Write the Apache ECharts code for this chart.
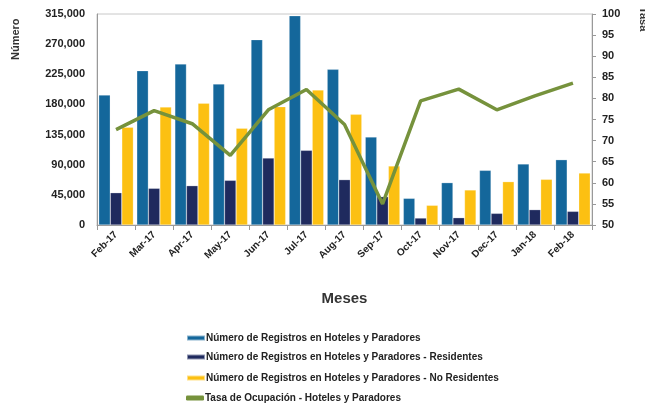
<!DOCTYPE html>
<html>
<head>
<meta charset="utf-8">
<script src="https://cdn.jsdelivr.net/npm/echarts@6/dist/echarts.min.js"></script>
<style>
  html, body { margin: 0; padding: 0; background: #fff; }
  #main { width: 645px; height: 403px; }
</style>
</head>
<body>
<div id="main"></div>
<script>
// meses
var meses = ['Feb-17', 'Mar-17', 'Apr-17', 'May-17', 'Jun-17', 'Jul-17', 'Aug-17',
             'Sep-17', 'Oct-17', 'Nov-17', 'Dec-17', 'Jan-18', 'Feb-18'];

// registros
var registrosTotal = [194000, 230400, 240400, 210500, 276700, 312500, 232400,
                      131400, 39800, 63200, 81600, 91100, 97500];
var registrosResidentes = [48200, 54800, 58700, 66700, 100000, 111500, 67700,
                           42300, 10400, 10900, 17400, 22900, 20400];
var registrosNoResidentes = [145900, 176200, 181700, 144400, 176700, 201600, 165200,
                             88100, 29400, 52300, 64700, 68200, 77600];
// tasa de ocupacion (%)
var tasaOcupacion = [72.6, 77.1, 74.0, 66.5, 77.3, 82.1, 73.8,
                     55.0, 79.4, 82.2, 77.3, 80.6, 83.6];

var nombres = [
  'Número de Registros en Hoteles y Paradores',
  'Número de Registros en Hoteles y Paradores - Residentes',
  'Número de Registros en Hoteles y Paradores - No Residentes',
  'Tasa de Ocupación - Hoteles y Paradores'
];

var myChart = echarts.init(document.getElementById('main'));
var fuente = 'Liberation Sans, Arial, sans-serif';

// una leyenda por fila, para que no se parta en columnas
var filasLeyenda = [328, 347, 368, 388];
var leyendas = nombres.map(function (n, i) {
  return {
    orient: 'vertical',
    left: 181,
    top: filasLeyenda[i],
    itemWidth: 18,
    itemHeight: 5,
    textStyle: { fontSize: 10, fontWeight: 'bold', color: '#222', padding: [0, 0, 0, -4] },
    data: [{ name: n, icon: i === 3 ? 'roundRect' : 'rect' }]
  };
});

var option = {
  animation: false,
  textStyle: { fontFamily: fuente },
  grid: { left: 97, right: 53, top: 14, bottom: 178, containLabel: false,
          show: true, borderColor: '#c8c8c8', borderWidth: 1, backgroundColor: 'transparent' },
  legend: leyendas,
  xAxis: {
    type: 'category',
    data: meses,
    axisLine: { lineStyle: { color: '#999' } },
    axisTick: { show: true, alignWithLabel: false, length: 5, lineStyle: { color: '#999' } },
    axisLabel: { rotate: 45, fontSize: 10, fontWeight: 'bold', color: '#222', margin: 8 },
    name: 'Meses',
    nameLocation: 'middle',
    nameGap: 66,
    nameTextStyle: { fontSize: 15, fontWeight: 'bold', color: '#333' }
  },
  yAxis: [
    {
      type: 'value',
      min: 0,
      max: 315000,
      interval: 45000,
      splitLine: { show: false },
      axisLine: { show: true, lineStyle: { color: '#999' } },
      axisTick: { show: false },
      axisLabel: {
        fontSize: 11, fontWeight: 'bold', color: '#222', margin: 12,
        formatter: function (v) { return v.toLocaleString('en-US'); }
      }
    },
    {
      type: 'value',
      min: 50,
      max: 100,
      interval: 5,
      splitLine: { show: false },
      axisLine: { show: true, lineStyle: { color: '#999' } },
      axisTick: { show: true, length: 4, lineStyle: { color: '#999' } },
      axisLabel: { fontSize: 11, fontWeight: 'bold', color: '#222', margin: 10 }
    }
  ],
  series: [
    {
      name: nombres[0], type: 'bar', data: registrosTotal,
      barGap: '0%', barCategoryGap: '9%',
      itemStyle: { color: '#14679b', borderColor: 'rgba(255,255,255,0.5)', borderWidth: 0.5 }
    },
    {
      name: nombres[1], type: 'bar', data: registrosResidentes,
      itemStyle: { color: '#1f2a5e', borderColor: 'rgba(255,255,255,0.5)', borderWidth: 0.5 }
    },
    {
      name: nombres[2], type: 'bar', data: registrosNoResidentes,
      itemStyle: { color: '#fcc012', borderColor: 'rgba(255,255,255,0.5)', borderWidth: 0.5 }
    },
    {
      name: nombres[3], type: 'line', yAxisIndex: 1, data: tasaOcupacion,
      symbol: 'none',
      lineStyle: { color: '#76923c', width: 3.5 },
      itemStyle: { color: '#76923c' },
      z: 5
    }
  ],
  graphic: [
    {
      type: 'text', x: 10, y: 60, rotation: Math.PI / 2,
      style: { text: 'Número', font: 'bold 11px ' + fuente, fill: '#333' }
    },
    {
      type: 'text', x: 649, y: 7, rotation: -Math.PI / 2,
      style: { text: 'Tasa', font: 'bold 11px ' + fuente, fill: '#333' }
    }
  ]
};

myChart.setOption(option);
</script>
</body>
</html>
